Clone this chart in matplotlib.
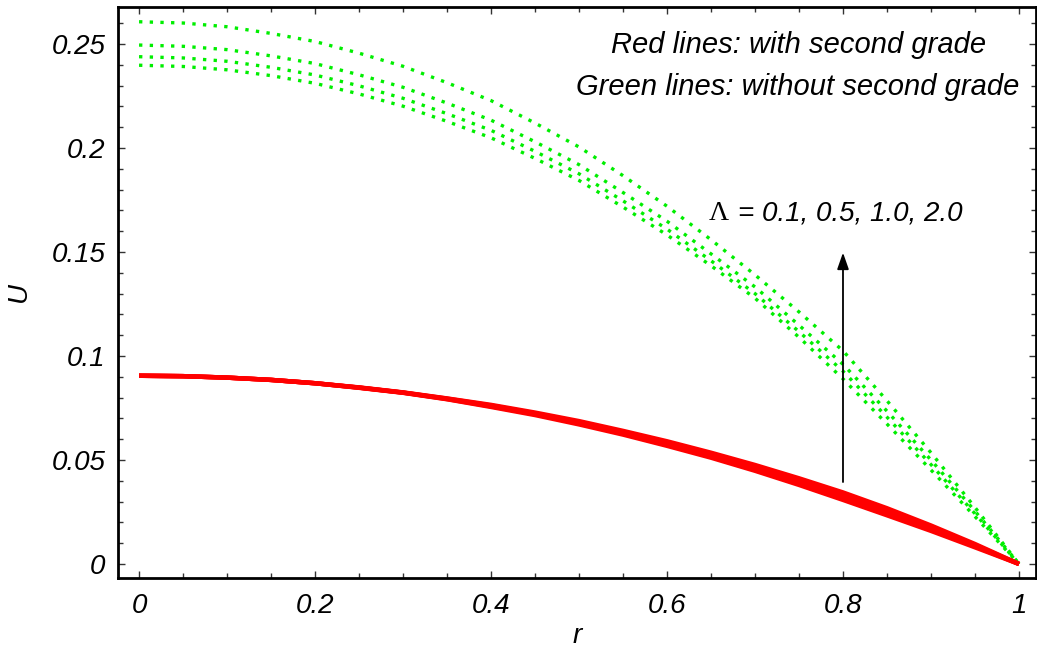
import numpy as np
import matplotlib
matplotlib.use("Agg")
import matplotlib.pyplot as plt
from matplotlib.ticker import MultipleLocator, FuncFormatter

# radial positions
r = [0.0, 0.05, 0.1, 0.15, 0.2, 0.25, 0.3, 0.35, 0.4, 0.45, 0.5,
     0.55, 0.6, 0.65, 0.7, 0.75, 0.8, 0.85, 0.9, 0.95, 1.0]

# green: without second grade (top to bottom)
green_1 = [0.2607, 0.2601, 0.2583, 0.2551, 0.2512, 0.2456, 0.2393, 0.2314, 0.2228, 0.2120, 0.2005,
           0.1867, 0.1720, 0.1559, 0.1390, 0.1212, 0.1025, 0.0785, 0.0535, 0.0272, 0.0]
green_2 = [0.2495, 0.2489, 0.2473, 0.2443, 0.2406, 0.2352, 0.2292, 0.2216, 0.2134, 0.2030, 0.1920,
           0.1786, 0.1648, 0.1491, 0.1332, 0.1148, 0.0960, 0.0735, 0.0500, 0.0254, 0.0]
green_3 = [0.2439, 0.2433, 0.2417, 0.2388, 0.2351, 0.2299, 0.2239, 0.2165, 0.2085, 0.1984, 0.1876,
           0.1746, 0.1610, 0.1458, 0.1300, 0.1117, 0.0927, 0.0706, 0.0478, 0.0242, 0.0]
green_4 = [0.2398, 0.2392, 0.2376, 0.2348, 0.2311, 0.2260, 0.2201, 0.2128, 0.2049, 0.1950, 0.1844,
           0.1716, 0.1582, 0.1434, 0.1278, 0.1090, 0.0890, 0.0673, 0.0452, 0.0228, 0.0]

# red: with second grade (nearly overlapping)
red_1 = [0.0905, 0.0903, 0.0896, 0.0885, 0.0869, 0.0849, 0.0825, 0.0796, 0.0765, 0.0728, 0.0687,
         0.0640, 0.0590, 0.0535, 0.0476, 0.0412, 0.0344, 0.0268, 0.0185, 0.0096, 0.0]
red_2 = [0.0905, 0.0903, 0.0896, 0.0885, 0.0869, 0.0848, 0.0824, 0.0795, 0.0762, 0.0724, 0.0682,
         0.0634, 0.0583, 0.0527, 0.0467, 0.0401, 0.0332, 0.0257, 0.0176, 0.0091, 0.0]
red_3 = [0.0905, 0.0903, 0.0896, 0.0885, 0.0869, 0.0848, 0.0824, 0.0793, 0.0758, 0.0720, 0.0676,
         0.0628, 0.0575, 0.0519, 0.0457, 0.0391, 0.0320, 0.0245, 0.0168, 0.0085, 0.0]
red_4 = [0.0905, 0.0903, 0.0896, 0.0885, 0.0869, 0.0847, 0.0823, 0.0792, 0.0755, 0.0716, 0.0671,
         0.0622, 0.0568, 0.0511, 0.0448, 0.0380, 0.0308, 0.0234, 0.0159, 0.0080, 0.0]

lambdas = "0.1, 0.5, 1.0, 2.0"

plt.rcParams['font.family'] = ['Liberation Sans', 'DejaVu Sans']
plt.rcParams['font.style'] = 'italic'

fig = plt.figure(figsize=(10.37, 6.55), dpi=100)
ax = fig.add_axes([0.1138, 0.1176, 0.8852, 0.8717])

for g in [green_1, green_2, green_3, green_4]:
    ax.plot(r, g, color='#00ee00', lw=2.4, linestyle=(0, (1.0, 2.2)),
            dash_capstyle='butt')
for rd in [red_1, red_2, red_3, red_4]:
    ax.plot(r, rd, color='#ff0000', lw=3.2, solid_capstyle='butt')

# arrow for increasing Lambda
ax.annotate("", xy=(0.8, 0.1497), xytext=(0.8, 0.0394),
            arrowprops=dict(arrowstyle='-|>,head_length=1.0,head_width=0.35',
                            color='#555555', lw=1.3, fc='black', ec='black',
                            shrinkA=0, shrinkB=0))
ax.text(0.6477, 0.1685, "Λ", fontsize=20, family='Liberation Serif',
        style='normal', va='center', ha='left')
ax.text(0.6807, 0.1685, "= " + lambdas, fontsize=20, va='center', ha='left')

ax.text(0.749, 0.2495, "Red lines: with second grade", fontsize=21,
        ha='center', va='center')
ax.text(0.749, 0.2293, "Green lines: without second grade", fontsize=21,
        ha='center', va='center')

ax.set_xlim(-0.0239, 1.0193)
ax.set_ylim(-0.00673, 0.26779)

ax.xaxis.set_major_locator(MultipleLocator(0.2))
ax.xaxis.set_minor_locator(MultipleLocator(0.05))
ax.yaxis.set_major_locator(MultipleLocator(0.05))
ax.yaxis.set_minor_locator(MultipleLocator(0.01))
fmt = FuncFormatter(lambda v, p: "%g" % round(v, 4))
ax.xaxis.set_major_formatter(fmt)
ax.yaxis.set_major_formatter(fmt)

ax.tick_params(which='both', direction='in', top=True, right=True,
               labelsize=20, width=1.0, color='#333333')
ax.tick_params(which='major', length=5, pad=9)
ax.tick_params(which='minor', length=3.5)
ax.tick_params(axis='x', pad=11)

for s in ax.spines.values():
    s.set_linewidth(2.0)

ax.set_xlabel("r", fontsize=20, labelpad=3)
ax.set_ylabel("U", fontsize=20, labelpad=14)

fig.savefig("out.png", dpi=100)
